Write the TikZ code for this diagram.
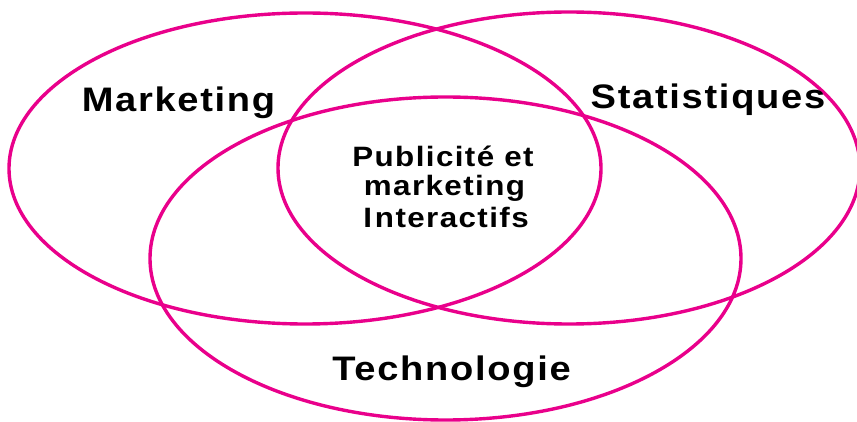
\documentclass[tikz,border=0pt]{standalone}
\usepackage{fontspec}
\setmainfont{Liberation Sans}
\newfontfamily\wideface[FakeStretch=1.12,LetterSpace=5]{Liberation Sans}
\definecolor{vennpink}{RGB}{233,0,139}
\begin{document}
\begin{tikzpicture}[x=1pt,y=-1pt,
  venn/.style={draw=vennpink,line width=3.4pt},
  biglabel/.style={font=\wideface\bfseries\fontsize{34}{40}\selectfont,anchor=base,inner sep=0pt},
  midlabel/.style={font=\wideface\bfseries\fontsize{28}{32}\selectfont,anchor=base,inner sep=0pt}]
\useasboundingbox (0,0) rectangle (857,422);
\draw[venn] (305,168.5) ellipse [x radius=296, y radius=155.5];
\draw[venn] (569,168) ellipse [x radius=291, y radius=156];
\draw[venn] (445.5,258.5) ellipse [x radius=295.5, y radius=161.5];
\node[biglabel] (mkt) at (178.5,112) {Marketing};
\node[biglabel] (stat) at (708,109) {Statistiques};
\node[biglabel] (tech) at (451.5,380) {Technologie};
\node[midlabel] (c1) at (443,167) {Publicité et};
\node[midlabel] (c2) at (444.5,196) {marketing};
\node[midlabel] (c3) at (446,228) {I\kern3pt nteractifs};
\end{tikzpicture}
\end{document}
